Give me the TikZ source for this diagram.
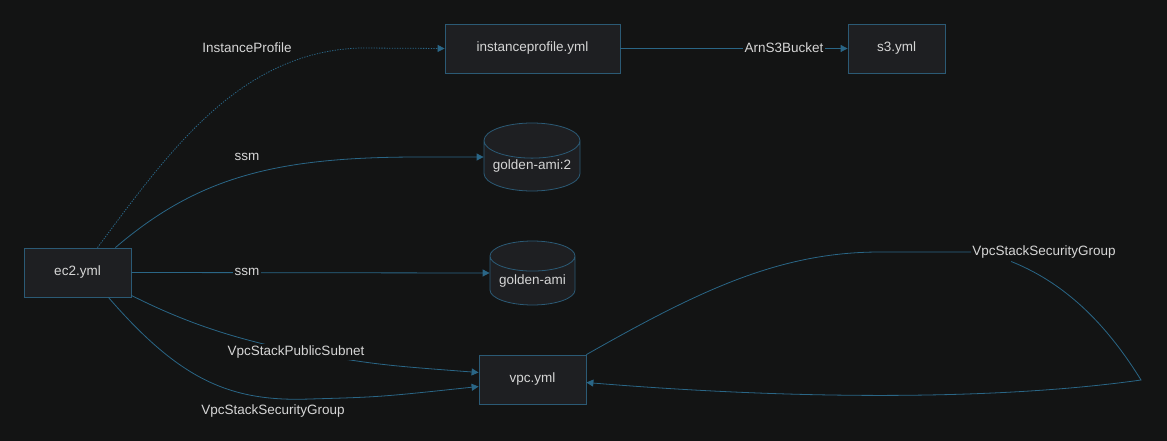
\documentclass[tikz,border=0pt]{standalone}
\usepackage{fontspec}
\setmainfont{Liberation Sans}
\usetikzlibrary{shapes.geometric,arrows.meta,calc}
\definecolor{bg}{HTML}{131414}
\definecolor{nodefill}{HTML}{1E1F22}
\definecolor{nodeline}{HTML}{2B5A75}
\definecolor{edge}{HTML}{2A6686}
\definecolor{txt}{HTML}{D6D6D6}
\begin{document}
\begin{tikzpicture}[x=1pt,y=-1pt,
  font=\fontsize{13.5}{16}\selectfont,
  box/.style={draw=nodeline,fill=nodefill,text=txt,line width=0.8pt,inner sep=0pt},
  db/.style={cylinder,shape border rotate=90,aspect=0.45,draw=nodeline,fill=nodefill,text=txt,line width=0.8pt,inner sep=0pt,anchor=shape center},
  lbl/.style={text=txt,inner sep=1pt},
  lblbg/.style={text=txt,fill=bg,inner sep=1.5pt},
  conn/.style={draw=edge,line width=0.8pt,-{Triangle[length=7pt,width=7pt]}},
  connplain/.style={draw=edge,line width=0.8pt},
  dots/.style={dash pattern=on 1.3pt off 1.3pt},
]
\fill[bg] (0,0) rectangle (1167,441);
\useasboundingbox (0,0) rectangle (1167,441);

\node[box,minimum width=107pt,minimum height=49pt] (ec2) at (77.5,272.5) {ec2.yml};
\node[box,minimum width=175pt,minimum height=49pt] (ip) at (532.5,48.5) {instanceprofile.yml};
\node[box,minimum width=97pt,minimum height=49pt] (s3) at (896.5,48.5) {s3.yml};
\node[db,minimum width=96pt,minimum height=68pt] (ga2) at (532,157) {golden-ami:2};
\node[db,minimum width=85pt,minimum height=64pt] (ga) at (532.5,273) {golden-ami};
\node[box,minimum width=107pt,minimum height=49pt] (vpc) at (532.5,379.5) {vpc.yml};

% label nodes
\node[lbl] (lip) at (247,48) {InstanceProfile};
\node[lbl] (lssm2) at (247,157) {ssm};
\node[lbl] (lsg) at (273,411) {VpcStackSecurityGroup};
\node[lbl] (lsg2) at (1044,252) {VpcStackSecurityGroup};

% edges
\draw[conn,dots] ($(ec2.north)+(20,0)$) .. controls (170,150) and (240,52) .. (360,48) -- (ip.west);
\draw[conn] (ip.east) -- (s3.west);
\node[lblbg] (larn) at (784,48) {ArnS3Bucket};
\draw[conn] ($(ec2.north east)+(-16,0)$) .. controls (200,175) and (280,157) .. (420,157) -- (ga2.shape center -| ga2.west);
\draw[conn] (ec2.east) -- (ga.shape center -| ga.west);
\node[lblbg] (lssm) at (247,272) {ssm};
\draw[conn] ($(ec2.south east)+(0,-2)$) .. controls (190,325) and (240,340) .. (300,352) .. controls (380,365) .. ($(vpc.west)+(0,-7)$);
\node[lblbg] (lps) at (296,352) {VpcStackPublicSubnet};
\draw[conn] ($(ec2.south east)+(-23,0)$) .. controls (180,380) and (230,402) .. (310,399) .. controls (380,397) .. ($(vpc.west)+(0,7)$);
\draw[connplain] (vpc.north east) .. controls (700,290) and (780,252) .. (880,252) -- (lsg2.west);
\draw[conn] ($(lsg2.south west)+(40,2)$) .. controls (1070,285) and (1110,330) .. (1141,380) .. controls (1000,400) and (800,400) .. ($(vpc.east)+(0,3)$);
\end{tikzpicture}
\end{document}
